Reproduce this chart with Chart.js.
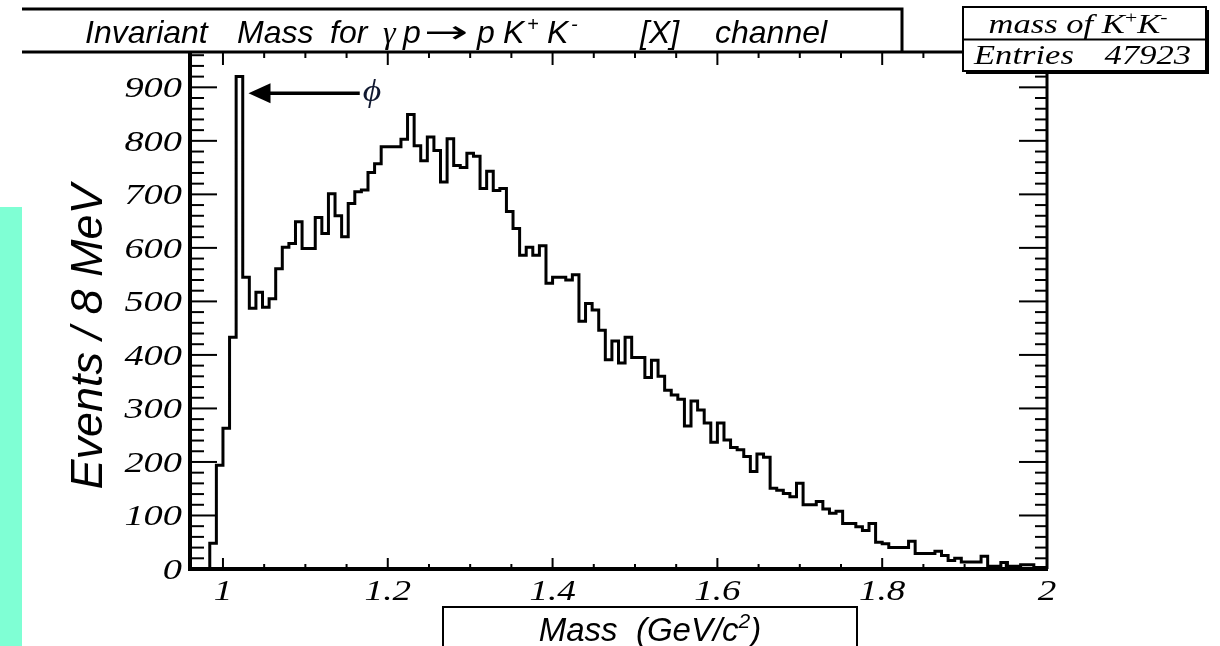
<!DOCTYPE html>
<html>
<head>
<meta charset="utf-8">
<title>Invariant Mass K+K-</title>
<script src="https://cdn.jsdelivr.net/npm/chart.js@4.4.1/dist/chart.umd.min.js"></script>
<style>
    html, body { margin: 0; padding: 0; background: #fff; }
    canvas { display: block; }
</style>
</head>
<body>
<canvas id="mass-chart" width="1220" height="646"></canvas>
<script>
/* ============================================================
   INVARIANT MASS · gamma p -> p K+ K- [X]
   ROOT-style histogram drawn with Chart.js
   ============================================================ */

/* ── DATA ───────────────────────────────────────────────── */

var BIN_LOW   = 0.96;    // GeV/c^2, lower edge of the first bin
var BIN_WIDTH = 0.008;   // 8 MeV per bin
var ENTRIES   = 47923;

var EVENTS = [
      0,   0,   0,  48, 194, 263, 433, 920, 545, 487,
    517, 489, 505, 561, 601, 608, 649, 599, 599, 657,
    627, 701, 660, 621, 683, 705, 708, 741, 757, 789,
    789, 789, 803, 849, 791, 763, 807, 782, 723, 804,
    754, 750, 777, 771, 711, 743, 707, 711, 668, 636,
    586, 601, 586, 604, 534, 545, 545, 540, 550, 463,
    496, 484, 446, 391, 426, 385, 433, 395, 395, 358,
    390, 360, 334, 325, 317, 267, 314, 297, 273, 237,
    273, 241, 227, 223, 210, 182, 215, 209, 151, 147,
    141, 135, 160, 120, 120, 126, 112, 104, 108,  85,
     85,  79,  72,  85,  50,  47,  40,  40,  40,  52,
     29,  29,  29,  33,  25,  16,  20,  13,  13,  13,
     24,   5,   5,  12,   5,   5,   8,   8,   3,   3
];

var X_TICK_VALUES = [1.0, 1.2, 1.4, 1.6, 1.8, 2.0];
var X_TICK_LABELS = ['1', '1.2', '1.4', '1.6', '1.8', '2'];
var Y_TICK_VALUES = [0, 100, 200, 300, 400, 500, 600, 700, 800, 900];
var Y_TICK_LABELS = ['0', '100', '200', '300', '400', '500', '600', '700', '800', '900'];

/* ── FONTS / HELPERS ────────────────────────────────────── */

var SERIF = "'Liberation Serif', 'Times New Roman', serif";
var SANS  = "'Liberation Sans', Arial, sans-serif";
var SERIF_STRETCH = 1.28;   // ROOT's Times renders wide

function piecesWidth(ctx, pieces) {
    var w = 0;
    pieces.forEach(function(p) { ctx.font = p.font; w += ctx.measureText(p.text).width; });
    return w;
}

function drawPieces(ctx, pieces, x, y, align, sx) {
    sx = sx || 1;
    var w  = piecesWidth(ctx, pieces);
    var cx = align === 'center' ? -w / 2 : (align === 'right' ? -w : 0);
    ctx.save();
    ctx.translate(x, y);
    ctx.scale(sx, 1);
    ctx.textAlign = 'left';
    ctx.textBaseline = 'alphabetic';
    pieces.forEach(function(p) {
        ctx.font = p.font;
        ctx.fillText(p.text, cx, -(p.rise || 0));
        cx += ctx.measureText(p.text).width;
    });
    ctx.restore();
}

function line(ctx, x1, y1, x2, y2, w) {
    ctx.lineWidth = w;
    ctx.beginPath();
    ctx.moveTo(x1, y1);
    ctx.lineTo(x2, y2);
    ctx.stroke();
}

/* ── ROOT FRAME, TICKS AND TEXT ─────────────────────────── */

var rootStylePlugin = {
    id: 'rootStyle',

    beforeDraw: function(chart) {
        var ctx = chart.ctx;
        ctx.save();
        ctx.fillStyle = '#ffffff';
        ctx.fillRect(0, 0, chart.width, chart.height);
        // slide decoration strip on the left
        ctx.fillStyle = '#7fffd4';
        ctx.fillRect(0, 207, 22, chart.height - 207);
        ctx.restore();
    },

    afterDatasetsDraw: function(chart) {
        var ctx  = chart.ctx;
        var area = chart.chartArea;
        var xs   = chart.scales.x;
        var ys   = chart.scales.y;
        var i, v, px, py, major;

        ctx.save();
        ctx.strokeStyle = '#000';
        ctx.fillStyle   = '#000';
        ctx.lineCap     = 'butt';

        // frame
        line(ctx, area.left, area.top - 1, area.left, area.bottom + 2, 4);
        line(ctx, area.left - 2, area.bottom, area.right + 1, area.bottom, 4);
        line(ctx, 22, area.top, area.right + 1, area.top, 3);
        line(ctx, area.right, area.top, area.right, area.bottom, 3);

        // x ticks, every 0.05, labelled every 0.2
        for (i = 0; i <= 20; i++) {
            v = 1.0 + i * 0.05;
            px = xs.getPixelForValue(v);
            major = i % 4 === 0;
            line(ctx, px, area.bottom, px, area.bottom - (major ? 11 : 5), 2);
            line(ctx, px, area.top, px, area.top + (major ? 13 : 6), 2);
        }

        // y ticks, every 20, labelled every 100
        for (v = 0; v <= ys.max; v += 20) {
            py = ys.getPixelForValue(v);
            major = v % 100 === 0;
            line(ctx, area.left, py, area.left + (major ? 27 : 14), py, 2);
            line(ctx, area.right, py, area.right - (major ? 28 : 12), py, 2);
        }

        // tick labels
        Y_TICK_VALUES.forEach(function(val, k) {
            drawPieces(ctx, [{ text: Y_TICK_LABELS[k], font: 'italic 30px ' + SERIF }],
                area.left - 8, ys.getPixelForValue(val) + 10, 'right', SERIF_STRETCH);
        });
        X_TICK_VALUES.forEach(function(val, k) {
            drawPieces(ctx, [{ text: X_TICK_LABELS[k], font: 'italic 29px ' + SERIF }],
                xs.getPixelForValue(val), area.bottom + 31, 'center', SERIF_STRETCH);
        });

        // title box
        ctx.lineWidth = 3;
        ctx.beginPath();
        ctx.moveTo(22, 9);
        ctx.lineTo(902, 9);
        ctx.lineTo(902, area.top);
        ctx.stroke();

        var tf  = 'italic 32px ' + SANS;
        var sup = 'italic 20px ' + SANS;
        var title = [
            ['Invariant', 85, tf, 0, 1], ['Mass', 237, tf, 0, 1], ['for', 330, tf, 0, 1],
            ['\u03b3', 383, 'italic 32px ' + SERIF, 0, 1], ['p', 403, tf, 0, 1],
            ['\u2192', 424, "32px 'DejaVu Sans', sans-serif", 0, 1.65], ['p', 477, tf, 0, 1],
            ['K', 503, tf, 0, 1], ['+', 527, sup, 12, 1], ['K', 547, tf, 0, 1], ['-', 571, sup, 12, 1],
            ['[X]', 640, tf, 0, 1], ['channel', 715, tf, 0, 1]
        ];
        title.forEach(function(t) {
            drawPieces(ctx, [{ text: t[0], font: t[2], rise: t[3] }], t[1], 42.5, 'left', t[4]);
        });

        // y axis title
        ctx.save();
        ctx.translate(102, 337);
        ctx.rotate(-Math.PI / 2);
        ctx.font = 'italic 45px ' + SANS;
        ctx.textAlign = 'center';
        ctx.textBaseline = 'alphabetic';
        ctx.fillText('Events / 8 MeV', 0, 0);
        ctx.restore();

        // x axis title box
        ctx.lineWidth = 2;
        ctx.beginPath();
        ctx.moveTo(443, chart.height);
        ctx.lineTo(443, 607);
        ctx.lineTo(857, 607);
        ctx.lineTo(857, chart.height);
        ctx.stroke();
        drawPieces(ctx, [
            { text: 'Mass  (GeV/c', font: 'italic 33px ' + SANS },
            { text: '2', font: 'italic 21px ' + SANS, rise: 13 },
            { text: ')', font: 'italic 33px ' + SANS }
        ], 650, 641, 'center', 1);

        // phi arrow, placed in data units
        var ax0 = xs.getPixelForValue(1.166);
        var ax1 = xs.getPixelForValue(1.031);
        var ay  = ys.getPixelForValue(889);
        line(ctx, ax0, ay, ax1 + 20, ay, 3.5);
        ctx.beginPath();
        ctx.moveTo(ax1, ay);
        ctx.lineTo(ax1 + 22, ay - 10);
        ctx.lineTo(ax1 + 22, ay + 10);
        ctx.closePath();
        ctx.fill();
        ctx.save();
        ctx.fillStyle = '#101830';
        drawPieces(ctx, [{ text: '\u03d5', font: 'italic 31px ' + SERIF }], ax0 + 3, ay + 8, 'left', 1.15);
        ctx.restore();

        // statistics box with shadow
        ctx.fillStyle = '#000';
        ctx.fillRect(966, 10, 243, 64);
        ctx.fillStyle = '#fff';
        ctx.fillRect(963, 7, 243, 64);
        ctx.strokeStyle = '#000';
        ctx.lineWidth = 2;
        ctx.strokeRect(963, 7, 243, 64);
        line(ctx, 963, 39.5, 1206, 39.5, 2);

        ctx.fillStyle = '#000';
        var sf = 'italic 27px ' + SERIF;
        drawPieces(ctx, [
            { text: 'mass of K', font: sf },
            { text: '+', font: '17px ' + SERIF, rise: 10 },
            { text: 'K', font: sf },
            { text: '-', font: '17px ' + SERIF, rise: 10 }
        ], 1078, 32.5, 'center', SERIF_STRETCH);
        drawPieces(ctx, [{ text: 'Entries', font: 'italic 27px ' + SERIF }], 974, 64, 'left', SERIF_STRETCH);
        drawPieces(ctx, [{ text: String(ENTRIES), font: 'italic 27px ' + SERIF }], 1191, 64, 'right', SERIF_STRETCH);

        ctx.restore();
    }
};

/* ── CHART ──────────────────────────────────────────────── */

function buildSteps() {
    var pts = EVENTS.map(function(n, i) {
        return { x: BIN_LOW + i * BIN_WIDTH, y: n };
    });
    // closing point at the upper edge of the last bin
    pts.push({ x: BIN_LOW + EVENTS.length * BIN_WIDTH, y: EVENTS[EVENTS.length - 1] });
    return pts;
}

var MASS_CHART = new Chart(document.getElementById('mass-chart'), {
    type: 'line',
    data: {
        datasets: [{
            label: 'mass of K+K-',
            data: buildSteps(),
            stepped: true,
            borderColor: '#000',
            borderWidth: 3,
            borderJoinStyle: 'miter',
            pointRadius: 0,
            fill: false
        }]
    },
    options: {
        responsive: false,
        animation: false,
        devicePixelRatio: 1,
        layout: { padding: { left: 190, right: 173, top: 52, bottom: 77 } },
        plugins: { legend: { display: false }, tooltip: { enabled: false } },
        scales: {
            x: { type: 'linear', min: BIN_LOW, max: BIN_LOW + EVENTS.length * BIN_WIDTH, display: false },
            y: { type: 'linear', min: 0, max: Math.max.apply(null, EVENTS) * 1.05, display: false }
        }
    },
    plugins: [rootStylePlugin]
});
</script>
</body>
</html>
